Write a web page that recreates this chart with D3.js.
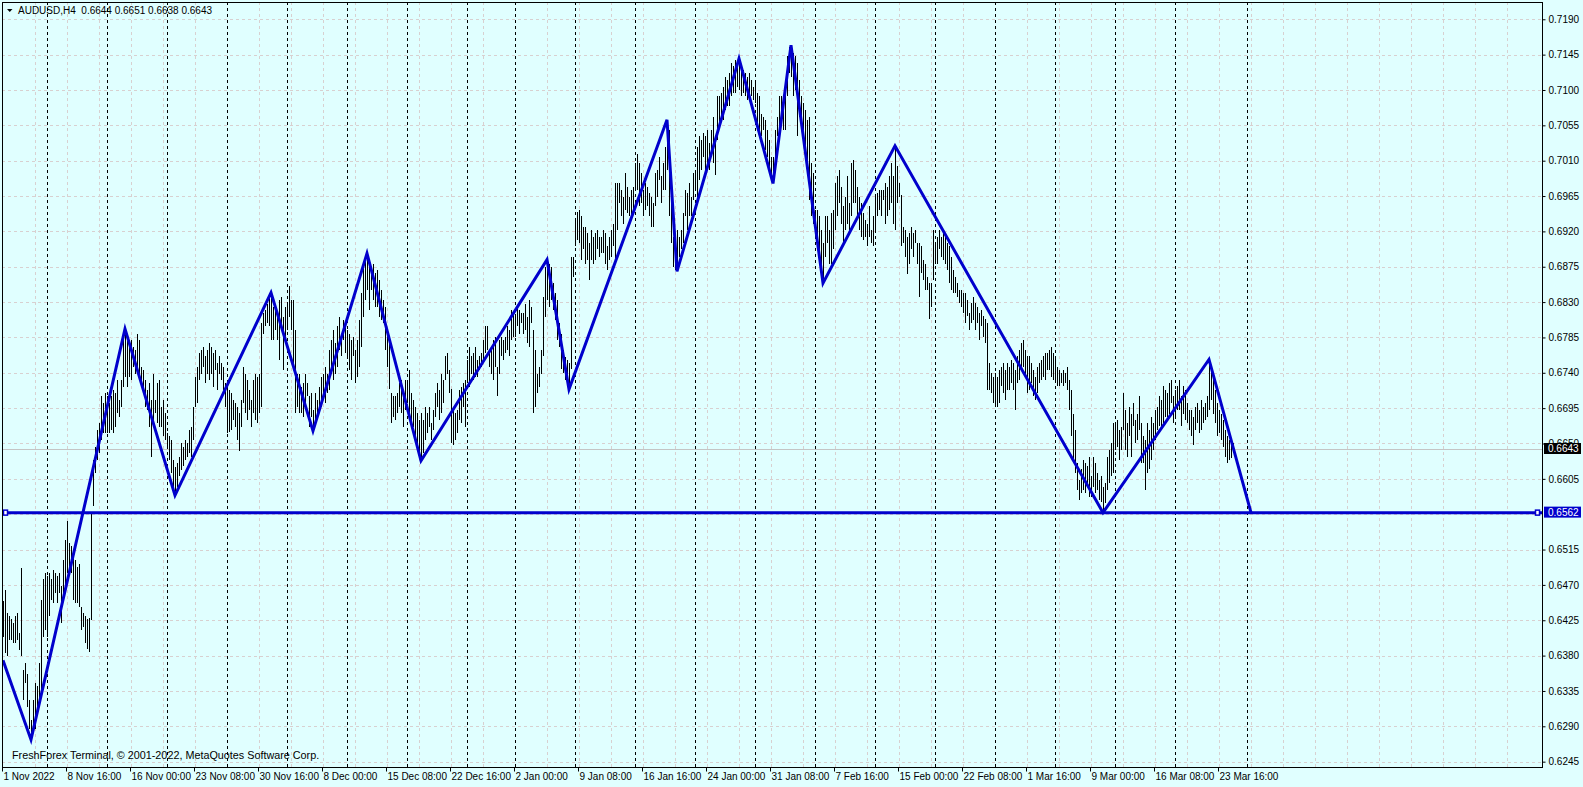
<!DOCTYPE html>
<html>
<head>
<meta charset="utf-8">
<script src="https://cdn.jsdelivr.net/npm/d3@7"></script>
<style>
  body { margin: 0; background: #e0ffff; }
  svg { display: block; font-family: "Liberation Sans", Arial, sans-serif; }
</style>
</head>
<body>
<script>
const symbol = "AUDUSD,H4";
const lastOHLC = [0.6644, 0.6651, 0.6638, 0.6643];
const bidPrice = 0.6643;
const levelPrice = 0.6562;
const copyright = "FreshForex Terminal, \u00a9 2001-2022, MetaQuotes Software Corp.";

const timeLabels = ["1 Nov 2022", "8 Nov 16:00", "16 Nov 00:00", "23 Nov 08:00", "30 Nov 16:00",
  "8 Dec 00:00", "15 Dec 08:00", "22 Dec 16:00", "2 Jan 00:00", "9 Jan 08:00", "16 Jan 16:00",
  "24 Jan 00:00", "31 Jan 08:00", "7 Feb 16:00", "15 Feb 00:00", "22 Feb 08:00", "1 Mar 16:00",
  "9 Mar 00:00", "16 Mar 08:00", "23 Mar 16:00"];
// bar number of each time label
const labelBars = [0, 32, 64, 96, 128, 160, 192, 224, 256, 288, 320, 352, 384, 416, 448, 480, 512, 544, 576, 608];
// bar number of each Monday 00:00 (period separators)
const weekStarts = [22, 52, 82, 112, 142, 172, 202, 232, 256, 286, 316, 346, 376, 406, 436, 466, 496, 526, 556, 586, 622];

const priceTicks = [0.7190, 0.7145, 0.7100, 0.7055, 0.7010, 0.6965, 0.6920, 0.6875, 0.6830, 0.6785, 0.6740,
  0.6695, 0.6650, 0.6605, 0.6560, 0.6515, 0.6470, 0.6425, 0.6380, 0.6335, 0.6290, 0.6245];
const shownTicks = priceTicks.filter(p => p !== 0.6560);

// ZigZag turning points: bar number and price
const zigBars = [0, 14, 61, 86, 134, 155, 182, 209, 272, 283, 332, 337, 368, 385, 394, 410, 446, 550, 603, 624];
const zigPrices = [0.6374, 0.6273, 0.6796, 0.6584, 0.6842, 0.6666, 0.6892, 0.6628, 0.6884, 0.6719,
  0.7062, 0.6869, 0.7140, 0.6981, 0.7157, 0.6854, 0.7029, 0.6562, 0.6757, 0.6562];

// H4 bars, one row per trading day
const barHigh = [
  0.6449, 0.6464, 0.6434, 0.6430,                 // Nov 1
  0.6426, 0.6421, 0.6430, 0.6434, 0.6409, 0.6491, // Nov 2
  0.6362, 0.6370, 0.6357, 0.6324, 0.6298, 0.6324, // Nov 3
  0.6345, 0.6341, 0.6370, 0.6451, 0.6477, 0.6485, // Nov 4
  0.6481, 0.6485, 0.6477, 0.6489, 0.6485, 0.6481, // Nov 7
  0.6485, 0.6468, 0.6502, 0.6527, 0.6551, 0.6523, // Nov 8
  0.6519, 0.6510, 0.6502, 0.6493, 0.6496, 0.6442, // Nov 9
  0.6434, 0.6430, 0.6426, 0.6428, 0.6563, 0.6629, // Nov 10
  0.6646, 0.6667, 0.6676, 0.6710, 0.6701, 0.6714, // Nov 11
  0.6710, 0.6701, 0.6710, 0.6718, 0.6714, 0.6731, // Nov 14
  0.6705, 0.6731, 0.6782, 0.6796, 0.6790, 0.6782, // Nov 15
  0.6782, 0.6773, 0.6769, 0.6790, 0.6782, 0.6748, // Nov 16
  0.6744, 0.6731, 0.6718, 0.6727, 0.6705, 0.6739, // Nov 17
  0.6705, 0.6727, 0.6731, 0.6697, 0.6705, 0.6689, // Nov 18
  0.6663, 0.6659, 0.6654, 0.6629, 0.6620, 0.6625, // Nov 21
  0.6633, 0.6650, 0.6646, 0.6654, 0.6650, 0.6667, // Nov 22
  0.6671, 0.6697, 0.6735, 0.6748, 0.6765, 0.6769, // Nov 23
  0.6773, 0.6761, 0.6769, 0.6778, 0.6773, 0.6765, // Nov 24
  0.6769, 0.6752, 0.6761, 0.6752, 0.6748, 0.6727, // Nov 25
  0.6722, 0.6718, 0.6714, 0.6705, 0.6701, 0.6697, // Nov 28
  0.6689, 0.6705, 0.6748, 0.6739, 0.6731, 0.6718, // Nov 29
  0.6705, 0.6731, 0.6739, 0.6735, 0.6739, 0.6803, // Nov 30
  0.6816, 0.6820, 0.6828, 0.6837, 0.6842, 0.6824, // Dec 1
  0.6824, 0.6816, 0.6833, 0.6837, 0.6811, 0.6824, // Dec 2
  0.6828, 0.6850, 0.6833, 0.6833, 0.6794, 0.6739, // Dec 5
  0.6739, 0.6722, 0.6727, 0.6739, 0.6727, 0.6710, // Dec 6
  0.6714, 0.6693, 0.6714, 0.6705, 0.6722, 0.6735, // Dec 7
  0.6739, 0.6748, 0.6739, 0.6769, 0.6782, 0.6794, // Dec 8
  0.6778, 0.6799, 0.6811, 0.6790, 0.6807, 0.6803, // Dec 9
  0.6794, 0.6790, 0.6782, 0.6786, 0.6769, 0.6782, // Dec 12
  0.6807, 0.6841, 0.6875, 0.6884, 0.6892, 0.6884, // Dec 13
  0.6875, 0.6879, 0.6867, 0.6871, 0.6858, 0.6845, // Dec 14
  0.6833, 0.6824, 0.6794, 0.6782, 0.6714, 0.6710, // Dec 15
  0.6710, 0.6714, 0.6727, 0.6731, 0.6718, 0.6731, // Dec 16
  0.6727, 0.6744, 0.6714, 0.6705, 0.6697, 0.6689, // Dec 19
  0.6680, 0.6689, 0.6680, 0.6697, 0.6689, 0.6697, // Dec 20
  0.6676, 0.6693, 0.6714, 0.6727, 0.6718, 0.6739, // Dec 21
  0.6731, 0.6761, 0.6765, 0.6744, 0.6720, 0.6697, // Dec 22
  0.6689, 0.6693, 0.6718, 0.6722, 0.6727, 0.6731, // Dec 23
  0.6756, 0.6773, 0.6761, 0.6765, 0.6773, 0.6756, // Dec 27
  0.6761, 0.6765, 0.6782, 0.6799, 0.6799, 0.6769, // Dec 28
  0.6773, 0.6782, 0.6786, 0.6748, 0.6782, 0.6786, // Dec 29
  0.6782, 0.6786, 0.6799, 0.6794, 0.6820, 0.6816, // Dec 30
  0.6811, 0.6824, 0.6820, 0.6816, 0.6816, 0.6828, // Jan 2
  0.6811, 0.6833, 0.6824, 0.6794, 0.6769, 0.6739, // Jan 3
  0.6748, 0.6769, 0.6837, 0.6875, 0.6884, 0.6879, // Jan 4
  0.6875, 0.6854, 0.6841, 0.6833, 0.6803, 0.6790, // Jan 5
  0.6769, 0.6760, 0.6756, 0.6752, 0.6887, 0.6888, // Jan 6
  0.6934, 0.6945, 0.6947, 0.6939, 0.6926, 0.6926, // Jan 9
  0.6918, 0.6905, 0.6922, 0.6913, 0.6918, 0.6922, // Jan 10
  0.6913, 0.6913, 0.6922, 0.6918, 0.6901, 0.6913, // Jan 11
  0.6922, 0.6930, 0.6981, 0.6981, 0.6981, 0.6973, // Jan 12
  0.6964, 0.6994, 0.6977, 0.6964, 0.6973, 0.6977, // Jan 13
  0.7007, 0.7019, 0.7007, 0.6994, 0.6973, 0.6981, // Jan 16
  0.6977, 0.6969, 0.6964, 0.6956, 0.6994, 0.6998, // Jan 17
  0.7015, 0.6990, 0.7007, 0.7028, 0.7062, 0.7049, // Jan 18
  0.6964, 0.6913, 0.6905, 0.6922, 0.6913, 0.6922, // Jan 19
  0.6943, 0.6973, 0.6969, 0.6981, 0.6964, 0.6994, // Jan 20
  0.6998, 0.7028, 0.7041, 0.7036, 0.7045, 0.7041, // Jan 23
  0.7049, 0.7032, 0.7049, 0.7066, 0.7041, 0.7092, // Jan 24
  0.7092, 0.7096, 0.7104, 0.7117, 0.7113, 0.7121, // Jan 25
  0.7134, 0.7130, 0.7138, 0.7134, 0.7140, 0.7130, // Jan 26
  0.7126, 0.7121, 0.7117, 0.7121, 0.7113, 0.7104, // Jan 27
  0.7113, 0.7096, 0.7092, 0.7070, 0.7066, 0.7062, // Jan 30
  0.7049, 0.7036, 0.7015, 0.7015, 0.7049, 0.7066, // Jan 31
  0.7092, 0.7092, 0.7092, 0.7113, 0.7143, 0.7155, // Feb 1
  0.7157, 0.7147, 0.7143, 0.7134, 0.7113, 0.7092, // Feb 2
  0.7083, 0.7075, 0.7062, 0.7066, 0.7007, 0.6994, // Feb 3
  0.6947, 0.6947, 0.6939, 0.6922, 0.6905, 0.6939, // Feb 6
  0.6939, 0.6922, 0.6943, 0.6947, 0.6981, 0.6990, // Feb 7
  0.6998, 0.6977, 0.6952, 0.6964, 0.6990, 0.6956, // Feb 8
  0.7007, 0.7011, 0.6998, 0.6977, 0.6964, 0.6956, // Feb 9
  0.6943, 0.6934, 0.6930, 0.6952, 0.6922, 0.6939, // Feb 10
  0.6964, 0.6969, 0.6973, 0.6973, 0.6973, 0.6981, // Feb 13
  0.6977, 0.6990, 0.7007, 0.6990, 0.7029, 0.7003, // Feb 14
  0.6981, 0.6966, 0.6926, 0.6922, 0.6913, 0.6918, // Feb 15
  0.6926, 0.6918, 0.6922, 0.6905, 0.6905, 0.6901, // Feb 16
  0.6884, 0.6879, 0.6862, 0.6854, 0.6854, 0.6922, // Feb 17
  0.6905, 0.6913, 0.6922, 0.6913, 0.6918, 0.6913, // Feb 20
  0.6905, 0.6901, 0.6888, 0.6871, 0.6862, 0.6854, // Feb 21
  0.6845, 0.6845, 0.6841, 0.6841, 0.6833, 0.6816, // Feb 22
  0.6829, 0.6837, 0.6829, 0.6824, 0.6816, 0.6820, // Feb 23
  0.6812, 0.6808, 0.6803, 0.6752, 0.6740, 0.6735, // Feb 24
  0.6740, 0.6735, 0.6744, 0.6748, 0.6752, 0.6744, // Feb 27
  0.6752, 0.6748, 0.6756, 0.6752, 0.6744, 0.6761, // Feb 28
  0.6769, 0.6778, 0.6782, 0.6769, 0.6761, 0.6761, // Mar 1
  0.6752, 0.6744, 0.6735, 0.6748, 0.6752, 0.6756, // Mar 2
  0.6761, 0.6765, 0.6765, 0.6769, 0.6773, 0.6765, // Mar 3
  0.6761, 0.6748, 0.6744, 0.6740, 0.6744, 0.6740, // Mar 6
  0.6748, 0.6731, 0.6718, 0.6688, 0.6667, 0.6625, // Mar 7
  0.6604, 0.6617, 0.6629, 0.6625, 0.6621, 0.6633, // Mar 8
  0.6608, 0.6633, 0.6625, 0.6612, 0.6604, 0.6608, // Mar 9
  0.6595, 0.6600, 0.6633, 0.6642, 0.6650, 0.6676, // Mar 10
  0.6676, 0.6680, 0.6667, 0.6671, 0.6714, 0.6693, // Mar 13
  0.6676, 0.6697, 0.6688, 0.6701, 0.6680, 0.6688, // Mar 14
  0.6710, 0.6676, 0.6659, 0.6655, 0.6676, 0.6667, // Mar 15
  0.6684, 0.6676, 0.6693, 0.6697, 0.6710, 0.6706, // Mar 16
  0.6723, 0.6718, 0.6714, 0.6727, 0.6731, 0.6710, // Mar 17
  0.6718, 0.6723, 0.6731, 0.6710, 0.6723, 0.6718, // Mar 20
  0.6701, 0.6693, 0.6693, 0.6684, 0.6697, 0.6701, // Mar 21
  0.6693, 0.6706, 0.6697, 0.6701, 0.6710, 0.6757, // Mar 22
  0.6744, 0.6735, 0.6718, 0.6701, 0.6693, 0.6688, // Mar 23
  0.6680, 0.6667, 0.6659, 0.6655, 0.6652, 0.6651  // Mar 24
];
const barLow = [
  0.6404, 0.6383, 0.6379, 0.6400,                 // Nov 1
  0.6400, 0.6396, 0.6396, 0.6400, 0.6387, 0.6379, // Nov 2
  0.6324, 0.6345, 0.6315, 0.6286, 0.6273, 0.6281, // Nov 3
  0.6286, 0.6307, 0.6315, 0.6328, 0.6404, 0.6413, // Nov 4
  0.6404, 0.6430, 0.6451, 0.6447, 0.6460, 0.6447, // Nov 7
  0.6460, 0.6421, 0.6451, 0.6468, 0.6485, 0.6481, // Nov 8
  0.6485, 0.6451, 0.6447, 0.6447, 0.6442, 0.6413, // Nov 9
  0.6417, 0.6396, 0.6389, 0.6385, 0.6425, 0.6570, // Nov 10
  0.6612, 0.6629, 0.6638, 0.6654, 0.6663, 0.6663, // Nov 11
  0.6663, 0.6663, 0.6667, 0.6663, 0.6671, 0.6689, // Nov 14
  0.6684, 0.6697, 0.6722, 0.6735, 0.6722, 0.6735, // Nov 15
  0.6731, 0.6748, 0.6739, 0.6739, 0.6731, 0.6722, // Nov 16
  0.6718, 0.6697, 0.6693, 0.6671, 0.6633, 0.6671, // Nov 17
  0.6689, 0.6676, 0.6671, 0.6671, 0.6659, 0.6654, // Nov 18
  0.6646, 0.6629, 0.6612, 0.6595, 0.6584, 0.6595, // Nov 21
  0.6608, 0.6616, 0.6621, 0.6629, 0.6633, 0.6638, // Nov 22
  0.6633, 0.6654, 0.6697, 0.6701, 0.6731, 0.6739, // Nov 23
  0.6748, 0.6727, 0.6739, 0.6731, 0.6739, 0.6722, // Nov 24
  0.6744, 0.6718, 0.6739, 0.6731, 0.6718, 0.6697, // Nov 25
  0.6663, 0.6665, 0.6667, 0.6680, 0.6671, 0.6654, // Nov 28
  0.6640, 0.6671, 0.6701, 0.6689, 0.6680, 0.6693, // Nov 29
  0.6671, 0.6689, 0.6680, 0.6676, 0.6689, 0.6697, // Nov 30
  0.6790, 0.6799, 0.6803, 0.6799, 0.6782, 0.6782, // Dec 1
  0.6794, 0.6782, 0.6756, 0.6799, 0.6744, 0.6782, // Dec 2
  0.6794, 0.6811, 0.6794, 0.6744, 0.6689, 0.6697, // Dec 5
  0.6689, 0.6689, 0.6684, 0.6697, 0.6710, 0.6671, // Dec 6
  0.6684, 0.6666, 0.6676, 0.6680, 0.6689, 0.6697, // Dec 7
  0.6710, 0.6701, 0.6714, 0.6718, 0.6739, 0.6731, // Dec 8
  0.6739, 0.6748, 0.6769, 0.6761, 0.6782, 0.6765, // Dec 9
  0.6761, 0.6744, 0.6731, 0.6761, 0.6727, 0.6735, // Dec 12
  0.6748, 0.6773, 0.6811, 0.6833, 0.6845, 0.6820, // Dec 13
  0.6845, 0.6833, 0.6824, 0.6824, 0.6811, 0.6807, // Dec 14
  0.6803, 0.6769, 0.6748, 0.6720, 0.6676, 0.6684, // Dec 15
  0.6680, 0.6689, 0.6697, 0.6689, 0.6671, 0.6693, // Dec 16
  0.6701, 0.6689, 0.6676, 0.6671, 0.6650, 0.6642, // Dec 19
  0.6633, 0.6628, 0.6638, 0.6654, 0.6663, 0.6671, // Dec 20
  0.6654, 0.6667, 0.6684, 0.6697, 0.6680, 0.6689, // Dec 21
  0.6701, 0.6731, 0.6739, 0.6714, 0.6650, 0.6648, // Dec 22
  0.6654, 0.6663, 0.6680, 0.6676, 0.6697, 0.6671, // Dec 23
  0.6731, 0.6722, 0.6739, 0.6731, 0.6735, 0.6735, // Dec 27
  0.6744, 0.6748, 0.6752, 0.6765, 0.6769, 0.6748, // Dec 28
  0.6739, 0.6731, 0.6748, 0.6710, 0.6739, 0.6761, // Dec 29
  0.6756, 0.6765, 0.6769, 0.6761, 0.6782, 0.6786, // Dec 30
  0.6786, 0.6799, 0.6790, 0.6803, 0.6790, 0.6794, // Jan 2
  0.6778, 0.6773, 0.6803, 0.6689, 0.6697, 0.6714, // Jan 3
  0.6722, 0.6739, 0.6761, 0.6811, 0.6833, 0.6824, // Jan 4
  0.6833, 0.6820, 0.6807, 0.6782, 0.6773, 0.6745, // Jan 5
  0.6740, 0.6731, 0.6727, 0.6719, 0.6745, 0.6862, // Jan 6
  0.6901, 0.6909, 0.6905, 0.6884, 0.6897, 0.6879, // Jan 9
  0.6884, 0.6858, 0.6884, 0.6879, 0.6884, 0.6897, // Jan 10
  0.6888, 0.6892, 0.6892, 0.6879, 0.6871, 0.6884, // Jan 11
  0.6888, 0.6901, 0.6884, 0.6922, 0.6956, 0.6939, // Jan 12
  0.6930, 0.6947, 0.6943, 0.6939, 0.6939, 0.6947, // Jan 13
  0.6973, 0.6973, 0.6952, 0.6956, 0.6939, 0.6947, // Jan 16
  0.6952, 0.6939, 0.6926, 0.6926, 0.6952, 0.6964, // Jan 17
  0.6985, 0.6956, 0.6973, 0.6973, 0.6998, 0.6939, // Jan 18
  0.6905, 0.6875, 0.6871, 0.6869, 0.6888, 0.6897, // Jan 19
  0.6905, 0.6939, 0.6922, 0.6939, 0.6939, 0.6960, // Jan 20
  0.6973, 0.6964, 0.6985, 0.6998, 0.7015, 0.6990, // Jan 23
  0.7003, 0.6998, 0.7015, 0.7007, 0.6992, 0.7036, // Jan 24
  0.7058, 0.7066, 0.7062, 0.7075, 0.7079, 0.7079, // Jan 25
  0.7092, 0.7096, 0.7096, 0.7104, 0.7100, 0.7092, // Jan 26
  0.7096, 0.7092, 0.7087, 0.7096, 0.7092, 0.7087, // Jan 27
  0.7083, 0.7058, 0.7049, 0.7041, 0.7049, 0.7024, // Jan 30
  0.7015, 0.6994, 0.6990, 0.6981, 0.7011, 0.7041, // Jan 31
  0.7036, 0.7062, 0.7049, 0.7049, 0.7092, 0.7121, // Feb 1
  0.7117, 0.7092, 0.7100, 0.7041, 0.7066, 0.7066, // Feb 2
  0.7049, 0.7015, 0.7007, 0.6960, 0.6939, 0.6930, // Feb 3
  0.6913, 0.6896, 0.6879, 0.6862, 0.6854, 0.6888, // Feb 6
  0.6905, 0.6879, 0.6879, 0.6897, 0.6922, 0.6939, // Feb 7
  0.6956, 0.6930, 0.6905, 0.6922, 0.6930, 0.6922, // Feb 8
  0.6939, 0.6956, 0.6956, 0.6939, 0.6922, 0.6913, // Feb 9
  0.6909, 0.6913, 0.6901, 0.6913, 0.6905, 0.6901, // Feb 10
  0.6922, 0.6939, 0.6947, 0.6939, 0.6960, 0.6930, // Feb 13
  0.6939, 0.6947, 0.6956, 0.6930, 0.6922, 0.6956, // Feb 14
  0.6964, 0.6901, 0.6905, 0.6888, 0.6866, 0.6879, // Feb 15
  0.6897, 0.6888, 0.6905, 0.6879, 0.6837, 0.6867, // Feb 16
  0.6858, 0.6846, 0.6846, 0.6808, 0.6824, 0.6858, // Feb 17
  0.6879, 0.6879, 0.6897, 0.6888, 0.6884, 0.6879, // Feb 20
  0.6871, 0.6854, 0.6846, 0.6841, 0.6841, 0.6837, // Feb 21
  0.6829, 0.6824, 0.6816, 0.6803, 0.6812, 0.6795, // Feb 22
  0.6803, 0.6807, 0.6795, 0.6803, 0.6782, 0.6799, // Feb 23
  0.6786, 0.6778, 0.6718, 0.6718, 0.6714, 0.6701, // Feb 24
  0.6697, 0.6697, 0.6701, 0.6723, 0.6714, 0.6706, // Feb 27
  0.6718, 0.6718, 0.6727, 0.6718, 0.6693, 0.6727, // Feb 28
  0.6731, 0.6744, 0.6748, 0.6735, 0.6714, 0.6718, // Mar 1
  0.6727, 0.6710, 0.6706, 0.6714, 0.6727, 0.6731, // Mar 2
  0.6735, 0.6731, 0.6744, 0.6744, 0.6735, 0.6731, // Mar 3
  0.6731, 0.6723, 0.6723, 0.6727, 0.6723, 0.6727, // Mar 6
  0.6718, 0.6693, 0.6659, 0.6625, 0.6612, 0.6591, // Mar 7
  0.6578, 0.6587, 0.6591, 0.6587, 0.6595, 0.6582, // Mar 8
  0.6582, 0.6595, 0.6587, 0.6591, 0.6578, 0.6575, // Mar 9
  0.6562, 0.6574, 0.6591, 0.6600, 0.6608, 0.6612, // Mar 10
  0.6642, 0.6646, 0.6629, 0.6642, 0.6667, 0.6642, // Mar 13
  0.6633, 0.6659, 0.6633, 0.6672, 0.6650, 0.6655, // Mar 14
  0.6667, 0.6625, 0.6625, 0.6591, 0.6612, 0.6617, // Mar 15
  0.6629, 0.6642, 0.6655, 0.6667, 0.6672, 0.6667, // Mar 16
  0.6676, 0.6684, 0.6684, 0.6688, 0.6701, 0.6676, // Mar 17
  0.6684, 0.6693, 0.6693, 0.6672, 0.6688, 0.6680, // Mar 20
  0.6676, 0.6667, 0.6659, 0.6648, 0.6667, 0.6676, // Mar 21
  0.6663, 0.6667, 0.6676, 0.6680, 0.6684, 0.6693, // Mar 22
  0.6706, 0.6688, 0.6676, 0.6659, 0.6663, 0.6655, // Mar 23
  0.6646, 0.6633, 0.6625, 0.6629, 0.6632, 0.6638  // Mar 24
];

const W = 1583, H = 787;
const plot = { left: 2, top: 2, right: 1542, bottom: 767 };
const bg = "#e0ffff", blue = "#0000cc", gridColor = "#d8d0d0";

const svg = d3.select("body").append("svg")
  .attr("width", W)
  .attr("height", H);

svg.append("rect").attr("width", W).attr("height", H).attr("fill", bg);

// 2 px per H4 bar, like the terminal's scale
const x = d3.scaleLinear().domain([0, 769.5]).range([3, 1542]);
const y = d3.scaleLinear().domain([0.62382, 0.72120]).range([plot.bottom, plot.top]);
const crisp = v => Math.round(v) + 0.5;

svg.append("clipPath").attr("id", "plotClip")
  .append("rect")
  .attr("x", plot.left).attr("y", plot.top)
  .attr("width", plot.right - plot.left).attr("height", plot.bottom - plot.top);

const chart = svg.append("g").attr("clip-path", "url(#plotClip)");

// grid
let grid = chart.append("g")
  .attr("stroke", gridColor)
  .attr("stroke-dasharray", "3,3");

grid.selectAll("line.h")
  .data(priceTicks)
  .enter()
  .append("line")
  .attr("x1", plot.left).attr("x2", plot.right)
  .attr("y1", d => crisp(y(d))).attr("y2", d => crisp(y(d)));

grid.selectAll("line.v")
  .data(d3.range(16, 753, 16))
  .enter()
  .append("line")
  .attr("x1", d => crisp(x(d))).attr("x2", d => crisp(x(d)))
  .attr("y1", plot.top).attr("y2", plot.bottom);

// period separators
chart.append("g")
  .attr("stroke", "#000")
  .attr("stroke-dasharray", "3,3")
  .selectAll("line")
  .data(weekStarts)
  .enter()
  .append("line")
  .attr("x1", d => crisp(x(d))).attr("x2", d => crisp(x(d)))
  .attr("y1", plot.top).attr("y2", plot.bottom);

// bid line
chart.append("line")
  .attr("x1", plot.left).attr("x2", plot.right)
  .attr("y1", crisp(y(bidPrice))).attr("y2", crisp(y(bidPrice)))
  .attr("stroke", "#c4c4c4");

// copyright sits under the price bars
svg.append("text")
  .attr("x", 12).attr("y", 759)
  .attr("font-size", 10.8)
  .attr("fill", "#000")
  .text(copyright);

// bars (high-low)
const bars = d3.range(Math.min(barHigh.length, barLow.length));
chart.append("g")
  .attr("stroke", "#000")
  .attr("stroke-width", 1)
  .selectAll("line")
  .data(bars)
  .enter()
  .append("line")
  .attr("x1", i => crisp(x(i))).attr("x2", i => crisp(x(i)))
  .attr("y1", i => Math.round(y(barHigh[i])))
  .attr("y2", i => Math.max(Math.round(y(barLow[i])), Math.round(y(barHigh[i])) + 1));

// horizontal level
chart.append("line")
  .attr("x1", plot.left).attr("x2", plot.right)
  .attr("y1", y(levelPrice)).attr("y2", y(levelPrice))
  .attr("stroke", blue)
  .attr("stroke-width", 3);

// zigzag
const zig = d3.line()
  .x(d => x(d[0]))
  .y(d => y(d[1]));

chart.append("path")
  .datum(zigBars.map((b, i) => [b, zigPrices[i]]))
  .attr("d", zig)
  .attr("fill", "none")
  .attr("stroke", blue)
  .attr("stroke-width", 3)
  .attr("stroke-linejoin", "miter");

// level anchors
svg.selectAll("rect.anchor")
  .data([plot.left + 3.5, plot.right - 4.5])
  .enter()
  .append("rect")
  .attr("x", d => d - 2).attr("y", y(levelPrice) - 2.5)
  .attr("width", 4).attr("height", 5)
  .attr("fill", "#ffffff")
  .attr("stroke", blue)
  .attr("stroke-width", 1.5);

// frame
svg.append("rect")
  .attr("x", plot.left + 0.5).attr("y", plot.top + 0.5)
  .attr("width", plot.right - plot.left).attr("height", plot.bottom - plot.top)
  .attr("fill", "none")
  .attr("stroke", "#000");

// price scale
let yAxis = svg.append("g")
  .attr("transform", `translate(${plot.right + 0.5},0)`)
  .call(d3.axisRight(y).tickValues(shownTicks).tickFormat(d3.format(".4f")).tickSize(3).tickPadding(3));
yAxis.select(".domain").remove();
yAxis.selectAll("text").attr("font-size", 10).attr("font-family", null).attr("fill", "#000");
yAxis.attr("font-family", null);

// time scale
let xAxis = svg.append("g")
  .attr("transform", `translate(0,${plot.bottom + 0.5})`)
  .call(d3.axisBottom(x).tickValues(labelBars).tickFormat((d, i) => timeLabels[i]).tickSize(4).tickPadding(1));
xAxis.select(".domain").remove();
xAxis.attr("font-family", null);
xAxis.selectAll("text")
  .attr("text-anchor", "start")
  .attr("x", 0)
  .attr("font-size", 10)
  .attr("fill", "#000");
xAxis.selectAll(".tick line").attr("x1", -1).attr("x2", -1);

// price tags on the scale
function priceTag(price, fill) {
  let cy = y(price);
  svg.append("rect")
    .attr("x", plot.right + 2).attr("y", cy - 6)
    .attr("width", 37).attr("height", 11)
    .attr("fill", fill);
  svg.append("text")
    .attr("x", plot.right + 6).attr("y", cy + 3.5)
    .attr("font-size", 10)
    .attr("fill", "#fff")
    .text(d3.format(".4f")(price));
}
priceTag(bidPrice, "#000");
priceTag(levelPrice, blue);

// header
svg.append("path")
  .attr("d", "M7,9 L12.5,9 L9.75,12 Z")
  .attr("fill", "#000");
svg.append("text")
  .attr("x", 18).attr("y", 14)
  .attr("font-size", 10)
  .attr("fill", "#000")
  .style("white-space", "pre")
  .text(symbol + "  " + lastOHLC.map(d3.format(".4f")).join(" "));
</script>
</body>
</html>
